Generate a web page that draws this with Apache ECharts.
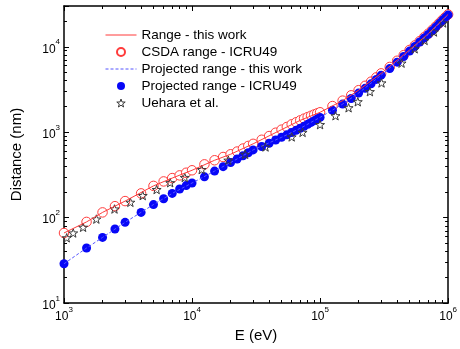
<!DOCTYPE html>
<html>
<head>
<meta charset="utf-8">
<script src="https://cdn.jsdelivr.net/npm/echarts@6/dist/echarts.min.js"></script>
<style>
  html, body { margin: 0; padding: 0; background: #fff; }
  #chart { width: 460px; height: 349px; }
</style>
</head>
<body>
<div id="chart"></div>
<script>
// ICRU49 energy grid (eV)
var energyGrid = [1000, 1500, 2000, 2500, 3000, 4000, 5000, 6000, 7000, 8000, 9000, 10000,
  12500, 15000, 17500, 20000, 22500, 25000, 27500, 30000, 35000, 40000, 45000, 50000,
  55000, 60000, 65000, 70000, 75000, 80000, 85000, 90000, 95000, 100000,
  125000, 150000, 175000, 200000, 225000, 250000, 275000, 300000, 350000, 400000,
  450000, 500000, 550000, 600000, 650000, 700000, 750000, 800000, 850000, 900000,
  950000, 1000000];
// CSDA range - ICRU49 (nm)
var csdaIcru = [66, 89, 115, 136, 156, 192, 235, 265, 290, 312, 335, 358,
  420, 469, 512, 551, 593, 643, 690, 730, 815, 900, 985, 1070,
  1150, 1235, 1305, 1375, 1440, 1500, 1555, 1610, 1660, 1710,
  2020, 2340, 2700, 3100, 3490, 3900, 4380, 4880, 5800, 6860,
  7970, 9170, 10370, 11620, 12930, 14230, 15680, 17220, 18830, 20530,
  22180, 23880];
// Projected range - ICRU49 (nm)
var projIcru = [28.8, 44, 58.6, 73.6, 88, 115, 142, 166, 192, 216, 237, 254,
  300, 350, 395, 440, 485, 530, 575, 620, 680, 740, 810, 870,
  930, 990, 1050, 1110, 1170, 1235, 1300, 1365, 1430, 1490,
  1800, 2130, 2480, 2870, 3260, 3680, 4150, 4650, 5550, 6600,
  7700, 8900, 10100, 11350, 12650, 13950, 15400, 16950, 18550, 20250,
  21900, 23600];

// this work (lines)
var lineEnergy = [1000, 1500, 2000, 3000, 5000, 7000, 10000, 15000, 20000, 30000, 50000,
  70000, 100000, 150000, 200000, 300000, 500000, 700000, 1000000];
var rangeWork = [66, 89, 115, 156, 235, 290, 358, 469, 551, 730, 1070,
  1375, 1710, 2340, 3100, 4880, 9170, 14230, 23880];
var projWork = [28.8, 44, 58.6, 88, 142, 192, 254, 350, 440, 620, 870,
  1110, 1490, 2130, 2870, 4650, 8900, 13950, 23600];

// Uehara et al.
var uEnergy = [1050, 1180, 1410, 1790, 2480, 3300, 4120, 5290, 6750, 8770, 11900, 19200,
  26000, 37500, 60000, 73000, 100000, 132000, 167000, 197000, 245000, 302000,
  433000, 548000, 655000, 775000, 914000];
var uDist = [58, 66, 77, 96, 126, 151, 181, 213, 256, 295, 365, 470,
  551, 671, 880, 995, 1225, 1556, 1930, 2270, 2980, 3770,
  6430, 9460, 11860, 14900, 19000];

var seriesNames = ['Range - this work', 'CSDA range - ICRU49', 'Projected range - this work',
  'Projected range - ICRU49', 'Uehara et al.'];

function pairs(xs, ys) {
  return xs.map(function (x, i) { return [x, ys[i]]; });
}

var starPath = 'path://M50 0 L61.8 33.8 L97.6 34.5 L69 56.2 L79.4 90.5 L50 70 L20.6 90.5 L31 56.2 L2.4 34.5 L38.2 33.8 Z';
var FONT = 'Liberation Sans, Arial, sans-serif';
var RED = '#ff3b3b', BLUE = '#0707f7', DASH = '#5555ff', STAR = '#3a3a3a';

function powLabel(v) {
  var e = Math.log10(v);
  if (Math.abs(e - Math.round(e)) > 1e-6) return '';
  return '{b|10}{s|' + Math.round(e) + '}';
}
var labelRich = {
  b: { fontSize: 12, fontFamily: FONT, color: '#000', lineHeight: 17, verticalAlign: 'bottom' },
  s: { fontSize: 8, fontFamily: FONT, color: '#000', lineHeight: 17, verticalAlign: 'top' }
};

function axisBase(extra) {
  var base = {
    type: 'log',
    logBase: 10,
    axisLine: { show: true, onZero: false, lineStyle: { color: '#000', width: 1.5 } },
    axisTick: { show: true, inside: true, length: 5, lineStyle: { color: '#000', width: 1 } },
    minorTick: { show: true, splitNumber: 9, length: 3, lineStyle: { color: '#000', width: 1 } },
    splitLine: { show: false },
    minorSplitLine: { show: false }
  };
  return Object.assign(base, extra);
}

var chart = echarts.init(document.getElementById('chart'), null, { renderer: 'canvas' });
chart.setOption({
  animation: false,
  backgroundColor: '#fff',
  grid: { left: 64, right: 9, top: 6, bottom: 46 },
  legend: {
    orient: 'vertical',
    left: 105,
    top: 28,
    padding: 0,
    itemWidth: 31,
    itemHeight: 8,
    itemGap: 3,
    data: [
      { name: seriesNames[0], itemStyle: { opacity: 0 }, lineStyle: { width: 1 } },
      { name: seriesNames[1] },
      { name: seriesNames[2], itemStyle: { opacity: 0 }, lineStyle: { width: 1 } },
      { name: seriesNames[3] },
      { name: seriesNames[4], itemStyle: { color: '#fff', borderColor: STAR, borderWidth: 1 } }
    ],
    textStyle: { fontSize: 13.5, fontFamily: FONT, color: '#000', lineHeight: 14 }
  },
  xAxis: [
    axisBase({
      position: 'bottom', min: 1000, max: 1000000,
      name: 'E (eV)', nameLocation: 'middle', nameGap: 24,
      nameTextStyle: { fontSize: 15, fontFamily: FONT, color: '#000' },
      axisLabel: { formatter: powLabel, rich: labelRich, margin: 3 }
    }),
    axisBase({ position: 'top', min: 1000, max: 1000000, axisLabel: { show: false } })
  ],
  yAxis: [
    axisBase({
      position: 'left', min: 10, max: 30000,
      name: 'Distance (nm)', nameLocation: 'middle', nameGap: 40,
      nameTextStyle: { fontSize: 15, fontFamily: FONT, color: '#000' },
      axisLabel: { formatter: powLabel, rich: labelRich, margin: 4 }
    }),
    axisBase({ position: 'right', min: 10, max: 30000, axisLabel: { show: false } })
  ],
  series: [
    {
      name: seriesNames[0], type: 'line', symbol: 'none',
      data: pairs(lineEnergy, rangeWork),
      lineStyle: { color: RED, width: 1 },
      itemStyle: { color: RED }
    },
    {
      name: seriesNames[1], type: 'scatter', symbol: 'circle', symbolSize: 9.5,
      data: pairs(energyGrid, csdaIcru),
      itemStyle: { color: '#fff', borderColor: RED, borderWidth: 1, opacity: 1 }
    },
    {
      name: seriesNames[2], type: 'line', symbol: 'none',
      data: pairs(lineEnergy, projWork),
      lineStyle: { color: DASH, width: 1, type: [3, 2] },
      itemStyle: { color: DASH }
    },
    {
      name: seriesNames[3], type: 'scatter', symbol: 'circle', symbolSize: 9,
      data: pairs(energyGrid, projIcru),
      itemStyle: { color: BLUE, opacity: 1 }
    },
    {
      name: seriesNames[4], type: 'scatter', symbol: starPath, symbolSize: 9,
      symbolKeepAspect: true,
      data: pairs(uEnergy, uDist),
      itemStyle: { color: 'rgba(255,255,255,0)', borderColor: STAR, borderWidth: 1, opacity: 1 }
    }
  ]
});
</script>
</body>
</html>
